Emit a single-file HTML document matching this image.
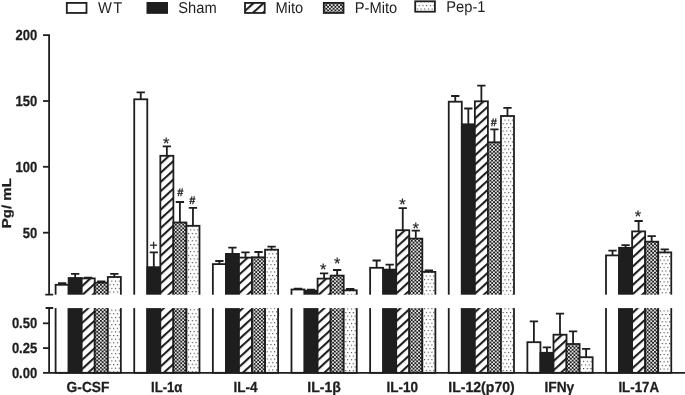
<!DOCTYPE html>
<html lang="en"><head><meta charset="utf-8"><title>Cytokine levels</title>
<style>html,body{margin:0;padding:0;background:#fff}body{width:685px;height:395px;overflow:hidden}svg{display:block}text{text-rendering:geometricPrecision;font-family:"Liberation Sans",Arial,Helvetica,sans-serif;fill:#1e1e1e}.b{font-weight:bold;stroke:#1e1e1e;stroke-width:.25px}</style>
</head><body>
<svg width="685" height="395" viewBox="0 0 685 395">
<defs>
<pattern id="h" width="6.8" height="6.8" patternUnits="userSpaceOnUse" patternTransform="translate(0.5 6.15) rotate(-42.5)"><rect width="6.8" height="6.8" fill="#fff"/><rect width="6.8" height="2.1" fill="#1e1e1e"/></pattern>
<pattern id="c" width="3.68" height="3.6" patternUnits="userSpaceOnUse" patternTransform="translate(1.5 1.3)"><rect width="3.68" height="3.6" fill="#fff"/><rect x="-0.12" y="-0.12" width="2.08" height="2.04" fill="#1e1e1e"/><rect x="1.72" y="1.68" width="2.08" height="2.04" fill="#1e1e1e"/><rect x="-0.12" y="3.48" width="0.24" height="0.24" fill="#1e1e1e"/><rect x="3.56" y="-0.12" width="0.24" height="0.24" fill="#1e1e1e"/></pattern>
<pattern id="d" width="3.7" height="7.26" patternUnits="userSpaceOnUse" patternTransform="translate(-0.2 -0.05)"><rect width="3.7" height="7.26" fill="#fff"/><rect x="1.85" y="0" width="1.1" height="1.1" fill="#3a3a3a"/><rect x="0" y="3.63" width="1.1" height="1.1" fill="#3a3a3a"/></pattern>
</defs>
<rect width="685" height="395" fill="#fff"/>
<g stroke="#1e1e1e" stroke-width="1.8">
<rect transform="translate(55.60 284.80)" width="13.05" height="88.00" fill="#fff"/>
<rect transform="translate(68.65 278.00)" width="13.05" height="94.80" fill="#1e1e1e"/>
<rect transform="translate(81.70 278.40)" width="13.05" height="94.40" fill="url(#h)"/>
<rect transform="translate(94.75 282.70)" width="13.05" height="90.10" fill="url(#c)"/>
<rect transform="translate(107.80 277.00)" width="13.05" height="95.80" fill="url(#d)"/>
<rect transform="translate(134.23 99.30)" width="13.05" height="273.50" fill="#fff"/>
<rect transform="translate(147.28 267.20)" width="13.05" height="105.60" fill="#1e1e1e"/>
<rect transform="translate(160.33 155.80)" width="13.05" height="217.00" fill="url(#h)"/>
<rect transform="translate(173.38 222.50)" width="13.05" height="150.30" fill="url(#c)"/>
<rect transform="translate(186.43 225.80)" width="13.05" height="147.00" fill="url(#d)"/>
<rect transform="translate(212.86 264.10)" width="13.05" height="108.70" fill="#fff"/>
<rect transform="translate(225.91 253.90)" width="13.05" height="118.90" fill="#1e1e1e"/>
<rect transform="translate(238.96 257.60)" width="13.05" height="115.20" fill="url(#h)"/>
<rect transform="translate(252.01 257.30)" width="13.05" height="115.50" fill="url(#c)"/>
<rect transform="translate(265.06 249.70)" width="13.05" height="123.10" fill="url(#d)"/>
<rect transform="translate(291.49 289.50)" width="13.05" height="83.30" fill="#fff"/>
<rect transform="translate(304.54 290.80)" width="13.05" height="82.00" fill="#1e1e1e"/>
<rect transform="translate(317.59 278.60)" width="13.05" height="94.20" fill="url(#h)"/>
<rect transform="translate(330.64 275.60)" width="13.05" height="97.20" fill="url(#c)"/>
<rect transform="translate(343.69 290.30)" width="13.05" height="82.50" fill="url(#d)"/>
<rect transform="translate(370.12 267.80)" width="13.05" height="105.00" fill="#fff"/>
<rect transform="translate(383.17 269.60)" width="13.05" height="103.20" fill="#1e1e1e"/>
<rect transform="translate(396.22 230.20)" width="13.05" height="142.60" fill="url(#h)"/>
<rect transform="translate(409.27 238.60)" width="13.05" height="134.20" fill="url(#c)"/>
<rect transform="translate(422.32 271.90)" width="13.05" height="100.90" fill="url(#d)"/>
<rect transform="translate(448.75 101.70)" width="13.05" height="271.10" fill="#fff"/>
<rect transform="translate(461.80 124.30)" width="13.05" height="248.50" fill="#1e1e1e"/>
<rect transform="translate(474.85 101.30)" width="13.05" height="271.50" fill="url(#h)"/>
<rect transform="translate(487.90 142.30)" width="13.05" height="230.50" fill="url(#c)"/>
<rect transform="translate(500.95 116.00)" width="13.05" height="256.80" fill="url(#d)"/>
<rect transform="translate(527.38 342.20)" width="13.05" height="30.60" fill="#fff"/>
<rect transform="translate(540.43 352.80)" width="13.05" height="20.00" fill="#1e1e1e"/>
<rect transform="translate(553.48 334.70)" width="13.05" height="38.10" fill="url(#h)"/>
<rect transform="translate(566.53 344.00)" width="13.05" height="28.80" fill="url(#c)"/>
<rect transform="translate(579.58 357.20)" width="13.05" height="15.60" fill="url(#d)"/>
<rect transform="translate(606.01 255.40)" width="13.05" height="117.40" fill="#fff"/>
<rect transform="translate(619.06 247.80)" width="13.05" height="125.00" fill="#1e1e1e"/>
<rect transform="translate(632.11 231.40)" width="13.05" height="141.40" fill="url(#h)"/>
<rect transform="translate(645.16 241.70)" width="13.05" height="131.10" fill="url(#c)"/>
<rect transform="translate(658.21 252.40)" width="13.05" height="120.40" fill="url(#d)"/>
</g>
<g stroke="#1e1e1e" stroke-width="1.8" fill="none">
<path d="M62.12 284.80V283.10M57.98 283.10H66.28"/>
<path d="M75.18 278.00V273.90M71.03 273.90H79.33"/>
<path d="M88.23 278.40V277.60M84.08 277.60H92.38"/>
<path d="M101.28 282.70V281.40M97.12 281.40H105.43"/>
<path d="M114.33 277.00V273.80M110.18 273.80H118.48"/>
<path d="M140.75 99.30V92.40M136.60 92.40H144.91"/>
<path d="M153.81 267.20V252.40M149.66 252.40H157.96"/>
<path d="M166.85 155.80V146.40M162.70 146.40H171.00"/>
<path d="M179.91 222.50V202.00M175.75 202.00H184.06"/>
<path d="M192.96 225.80V207.80M188.81 207.80H197.11"/>
<path d="M219.38 264.10V261.00M215.23 261.00H223.53"/>
<path d="M232.44 253.90V247.70M228.28 247.70H236.59"/>
<path d="M245.48 257.60V252.40M241.33 252.40H249.63"/>
<path d="M258.53 257.30V252.00M254.38 252.00H262.68"/>
<path d="M271.58 249.70V246.60M267.44 246.60H275.73"/>
<path d="M298.01 289.50V288.70M293.87 288.70H302.16"/>
<path d="M311.06 290.80V289.60M306.92 289.60H315.21"/>
<path d="M324.12 278.60V273.30M319.97 273.30H328.26"/>
<path d="M337.16 275.60V270.00M333.01 270.00H341.31"/>
<path d="M350.21 290.30V289.00M346.06 289.00H354.36"/>
<path d="M376.64 267.80V260.50M372.50 260.50H380.79"/>
<path d="M389.69 269.60V264.60M385.55 264.60H393.84"/>
<path d="M402.75 230.20V208.20M398.60 208.20H406.89"/>
<path d="M415.79 238.60V230.70M411.64 230.70H419.94"/>
<path d="M428.84 271.90V270.40M424.69 270.40H432.99"/>
<path d="M455.27 101.70V96.00M451.12 96.00H459.42"/>
<path d="M468.32 124.30V108.50M464.18 108.50H472.47"/>
<path d="M481.38 101.30V85.60M477.23 85.60H485.52"/>
<path d="M494.42 142.30V129.30M490.27 129.30H498.57"/>
<path d="M507.47 116.00V107.80M503.32 107.80H511.62"/>
<path d="M533.90 342.20V321.30M529.75 321.30H538.05"/>
<path d="M546.95 352.80V347.40M542.80 347.40H551.10"/>
<path d="M560.00 334.70V313.70M555.86 313.70H564.15"/>
<path d="M573.05 344.00V331.40M568.90 331.40H577.20"/>
<path d="M586.11 357.20V348.90M581.96 348.90H590.25"/>
<path d="M612.53 255.40V250.60M608.38 250.60H616.68"/>
<path d="M625.58 247.80V245.10M621.43 245.10H629.73"/>
<path d="M638.63 231.40V221.00M634.49 221.00H642.78"/>
<path d="M651.68 241.70V236.10M647.53 236.10H655.83"/>
<path d="M664.74 252.40V249.30M660.59 249.30H668.88"/>
</g>
<rect x="52" y="294.70" width="633" height="13.40" fill="#fff"/>
<g stroke="#1e1e1e" stroke-width="1.8" fill="none">
<path d="M43 35.2H49.1V294.7M45.3 294.7H53.2"/>
<path d="M45.6 308H53.2M49.1 308V372.8M43 372.8H685"/>
<path d="M43 101.0H49.1"/>
<path d="M43 166.8H49.1"/>
<path d="M43 232.7H49.1"/>
<path d="M43 323.3H49.1"/>
<path d="M43 348.1H49.1"/>
</g>
<text class="b" transform="translate(37.2 40.1) scale(1 1.125)" font-size="13" text-anchor="end">200</text>
<text class="b" transform="translate(37.2 105.9) scale(1 1.125)" font-size="13" text-anchor="end">150</text>
<text class="b" transform="translate(37.2 171.7) scale(1 1.125)" font-size="13" text-anchor="end">100</text>
<text class="b" transform="translate(37.2 237.6) scale(1 1.125)" font-size="13" text-anchor="end">50</text>
<text class="b" transform="translate(37.2 328.2) scale(1 1.125)" font-size="13" text-anchor="end">0.50</text>
<text class="b" transform="translate(37.2 353.0) scale(1 1.125)" font-size="13" text-anchor="end">0.25</text>
<text class="b" transform="translate(37.2 378.4) scale(1 1.125)" font-size="13" text-anchor="end">0.00</text>
<text class="b" font-size="13" text-anchor="middle" transform="translate(10.6 203.2) rotate(-90)" textLength="50" lengthAdjust="spacingAndGlyphs">Pg/ mL</text>
<text class="b" transform="translate(88.0 391.7) scale(1 1.125)" font-size="13" text-anchor="middle" textLength="42.8" lengthAdjust="spacingAndGlyphs">G-CSF</text>
<text class="b" transform="translate(166.7 391.7) scale(1 1.125)" font-size="13" text-anchor="middle" textLength="31.4" lengthAdjust="spacingAndGlyphs">IL-1α</text>
<text class="b" transform="translate(245.4 391.7) scale(1 1.125)" font-size="13" text-anchor="middle" textLength="24.0" lengthAdjust="spacingAndGlyphs">IL-4</text>
<text class="b" transform="translate(324.0 391.7) scale(1 1.125)" font-size="13" text-anchor="middle" textLength="33.5" lengthAdjust="spacingAndGlyphs">IL-1β</text>
<text class="b" transform="translate(402.3 391.7) scale(1 1.125)" font-size="13" text-anchor="middle" textLength="31.6" lengthAdjust="spacingAndGlyphs">IL-10</text>
<text class="b" transform="translate(481.5 391.7) scale(1 1.125)" font-size="13" text-anchor="middle" textLength="66.5" lengthAdjust="spacingAndGlyphs">IL-12(p70)</text>
<text class="b" transform="translate(559.3 391.7) scale(1 1.125)" font-size="13" text-anchor="middle" textLength="29.8" lengthAdjust="spacingAndGlyphs">IFNγ</text>
<text class="b" transform="translate(638.7 391.7) scale(1 1.125)" font-size="13" text-anchor="middle" textLength="40.6" lengthAdjust="spacingAndGlyphs">IL-17A</text>
<rect transform="translate(66.8 2.90)" width="19.7" height="10.05" fill="#fff" stroke="#1e1e1e" stroke-width="1.8"/>
<text transform="translate(98.0 13.1) scale(1 1.064)" font-size="14.7" textLength="24.3">WT</text>
<rect transform="translate(147.4 2.90)" width="19.7" height="10.05" fill="#1e1e1e" stroke="#1e1e1e" stroke-width="1.8"/>
<text transform="translate(178.3 13.1) scale(1 1.064)" font-size="14.7">Sham</text>
<rect transform="translate(245.0 2.90)" width="19.7" height="10.05" fill="url(#h)" stroke="#1e1e1e" stroke-width="1.8"/>
<text transform="translate(275.4 13.1) scale(1 1.064)" font-size="14.7">Mito</text>
<rect transform="translate(323.8 2.90)" width="19.7" height="10.05" fill="url(#c)" stroke="#1e1e1e" stroke-width="1.8"/>
<text transform="translate(354.8 13.1) scale(1 1.064)" font-size="14.7">P-Mito</text>
<rect transform="translate(415.2 1.30)" width="19.7" height="10.40" fill="url(#d)" stroke="#1e1e1e" stroke-width="1.8"/>
<text transform="translate(446.3 11.8) scale(1 1.064)" font-size="14.7">Pep-1</text>
<text x="166.3" y="149.1" font-size="16.5" text-anchor="middle" stroke="#1e1e1e" stroke-width="0.15">*</text>
<text x="323.3" y="275.2" font-size="16.5" text-anchor="middle" stroke="#1e1e1e" stroke-width="0.15">*</text>
<text x="337.2" y="268.9" font-size="16.5" text-anchor="middle" stroke="#1e1e1e" stroke-width="0.15">*</text>
<text x="402.5" y="210.4" font-size="16.5" text-anchor="middle" stroke="#1e1e1e" stroke-width="0.15">*</text>
<text x="415.7" y="234.0" font-size="16.5" text-anchor="middle" stroke="#1e1e1e" stroke-width="0.15">*</text>
<text x="637.9" y="221.9" font-size="16.5" text-anchor="middle" stroke="#1e1e1e" stroke-width="0.15">*</text>
<text class="b" x="180.3" y="196.0" font-size="11" text-anchor="middle" stroke="#1e1e1e" stroke-width="0.2">#</text>
<text class="b" x="192.4" y="204.3" font-size="11" text-anchor="middle" stroke="#1e1e1e" stroke-width="0.2">#</text>
<text class="b" x="493.9" y="125.5" font-size="11" text-anchor="middle" stroke="#1e1e1e" stroke-width="0.2">#</text>
<text x="153.6" y="250.3" font-size="14" text-anchor="middle" stroke="#1e1e1e" stroke-width="0.25">+</text>
</svg>
</body></html>
